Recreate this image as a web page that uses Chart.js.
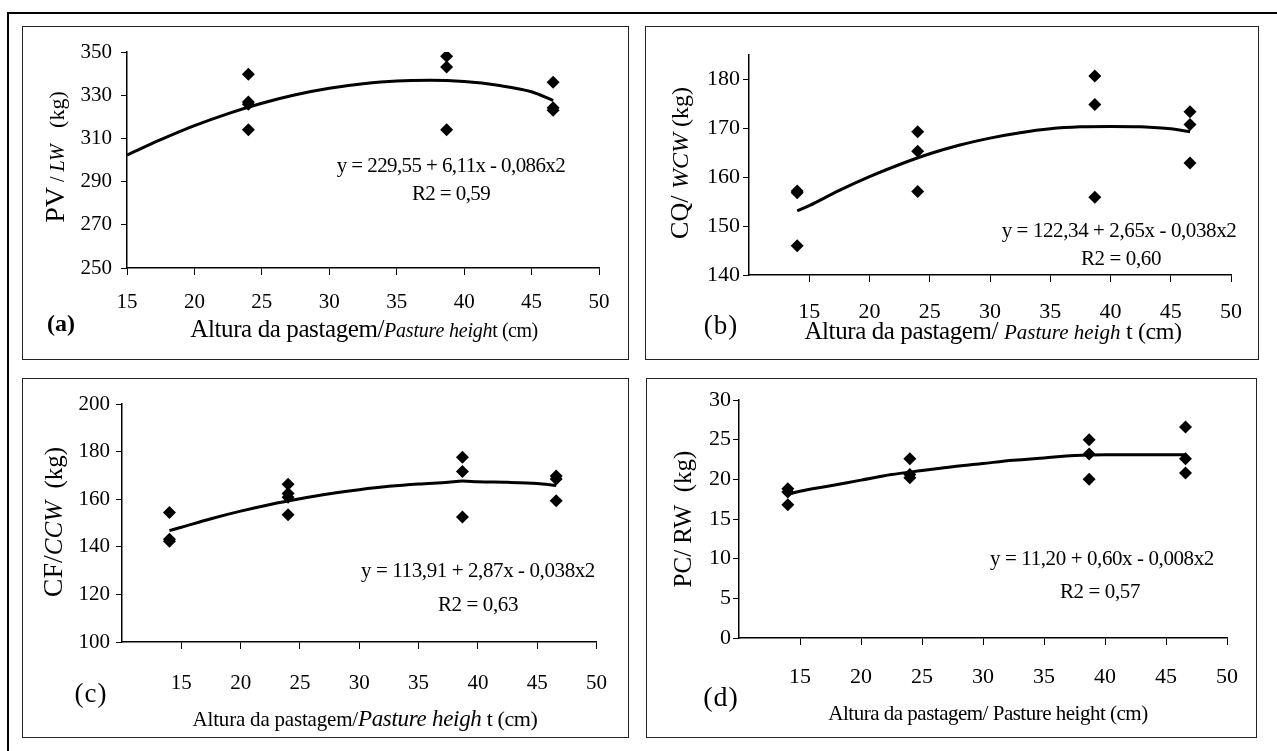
<!DOCTYPE html>
<html><head><meta charset="utf-8">
<script src="https://cdn.jsdelivr.net/npm/chart.js@4.4.0/dist/chart.umd.min.js"></script>
<style>
body{margin:0;background:#fff;width:1277px;height:751px;overflow:hidden;position:relative;font-family:"Liberation Serif","Times New Roman",serif;color:#000}
.frame{position:absolute;left:7px;top:12px;width:1300px;height:800px;border-left:2px solid #000;border-top:2px solid #000}
.box{position:absolute;border:1.5px solid #222;box-sizing:border-box}
canvas{position:absolute}
.t{position:absolute;white-space:nowrap;transform:translate(-50%,-50%);line-height:1}
.r{transform:translate(-50%,-50%) rotate(-90deg)}
</style></head>
<body>
<div class="frame"></div>
<div class="box" style="left:22px;top:26px;width:607px;height:334px"></div>
<div class="box" style="left:645px;top:26px;width:614px;height:334px"></div>
<div class="box" style="left:22px;top:378px;width:607px;height:360px"></div>
<div class="box" style="left:646px;top:378px;width:611px;height:360px"></div>
<canvas id="ca" width="607" height="334" style="left:22px;top:26px"></canvas>
<canvas id="cb" width="614" height="334" style="left:645px;top:26px"></canvas>
<canvas id="cc" width="607" height="360" style="left:22px;top:378px"></canvas>
<canvas id="cd" width="611" height="360" style="left:646px;top:378px"></canvas>

<!-- panel a texts -->
<div class="t r" style="left:55px;top:157px"><span style="font-size:28px">PV</span><span style="font-size:20px"> / <i>LW</i></span><span style="font-size:22px">&nbsp;&nbsp; (kg)</span></div>
<div class="t" style="left:451px;top:165px;font-size:21px;letter-spacing:-0.6px">y = 229,55 + 6,11x - 0,086x2</div>
<div class="t" style="left:451px;top:193px;font-size:21px;letter-spacing:-0.6px">R2 = 0,59</div>
<div class="t" style="left:61px;top:323px;font-size:24px;font-weight:bold">(a)</div>
<div class="t" style="left:364px;top:328px"><span style="font-size:25px;letter-spacing:-0.4px">Altura da pastagem/</span><i style="font-size:20px;letter-spacing:-0.2px">Pasture heigh</i><span style="font-size:20px;letter-spacing:-0.5px">t (cm)</span></div>

<!-- panel b texts -->
<div class="t r" style="left:680px;top:163px"><span style="font-size:26px">CQ/ </span><i style="font-size:24px">WCW</i><span style="font-size:24px"> (kg)</span></div>
<div class="t" style="left:1119px;top:230px;font-size:21px;letter-spacing:-0.4px">y = 122,34 + 2,65x - 0,038x2</div>
<div class="t" style="left:1121px;top:258px;font-size:21px;letter-spacing:-0.4px">R2 = 0,60</div>
<div class="t" style="left:721px;top:325px;font-size:27px;letter-spacing:1px">(b)</div>
<div class="t" style="left:993px;top:330px"><span style="font-size:25px;letter-spacing:-0.4px">Altura da pastagem/ </span><i style="font-size:21px">Pasture heigh</i><span style="font-size:24px;letter-spacing:-0.4px"> t (cm)</span></div>

<!-- panel c texts -->
<div class="t r" style="left:53px;top:522px"><span style="font-size:28px">CF/</span><i style="font-size:25px">CCW</i><span style="font-size:25px">&nbsp; (kg)</span></div>
<div class="t" style="left:478px;top:570px;font-size:21px;letter-spacing:-0.4px">y = 113,91 + 2,87x - 0,038x2</div>
<div class="t" style="left:478px;top:604px;font-size:21px;letter-spacing:-0.4px">R2 = 0,63</div>
<div class="t" style="left:91px;top:693px;font-size:27px;letter-spacing:1px">(c)</div>
<div class="t" style="left:365px;top:718px"><span style="font-size:21px;letter-spacing:-0.2px">Altura da pastagem/</span><i style="font-size:23px;letter-spacing:-0.3px">Pasture heigh</i><span style="font-size:22px;letter-spacing:-0.4px"> t (cm)</span></div>

<!-- panel d texts -->
<div class="t r" style="left:682px;top:519px;font-size:25px">PC/ RW&nbsp; (kg)</div>
<div class="t" style="left:1102px;top:558px;font-size:21px;letter-spacing:-0.4px">y = 11,20 + 0,60x - 0,008x2</div>
<div class="t" style="left:1100px;top:591px;font-size:21px;letter-spacing:-0.4px">R2 = 0,57</div>
<div class="t" style="left:721px;top:697px;font-size:28px;letter-spacing:1px">(d)</div>
<div class="t" style="left:988px;top:713px;font-size:21px;letter-spacing:-0.5px">Altura da pastagem/ Pasture height (cm)</div>

<script>
// ---------- data ----------
const xTickValues = [15, 20, 25, 30, 35, 40, 45, 50];

// (a) PV / LW
const ptsX_a = [24, 24, 24, 24, 38.7, 38.7, 38.7, 46.6, 46.6, 46.6];
const ptsY_a = [339.7, 326.9, 325.8, 314.0, 348.0, 343.1, 314.0, 336.0, 324.2, 323.0];
const fitX_a = [15, 17.5, 20, 22.5, 25, 27.5, 30, 32.5, 35, 37.5, 40, 42.5, 45, 46.6];
const fitY_a = [302.3, 309.4, 315.9, 321.5, 326.3, 330.2, 333.2, 335.3, 336.6, 336.9, 336.3, 334.6, 331.6, 327.5];
const yTicks_a = [250, 270, 290, 310, 330, 350];

// (b) CQ / WCW
const ptsX_b = [14, 14, 14, 24, 24, 24, 38.7, 38.7, 38.7, 46.6, 46.6, 46.6];
const ptsY_b = [157.2, 156.8, 146.0, 169.3, 165.3, 157.1, 180.7, 174.9, 155.9, 173.4, 170.8, 162.9];
const fitX_b = [14, 15, 17.5, 20, 22.5, 25, 27.5, 30, 32.5, 35, 37.5, 40, 42.5, 45, 46.6];
const fitY_b = [153.1, 154.2, 157.3, 160.1, 162.6, 164.8, 166.6, 168.0, 169.1, 169.9, 170.3, 170.4, 170.3, 169.9, 169.3];
const yTicks_b = [140, 150, 160, 170, 180];

// (c) CF / CCW
const ptsX_c = [14, 14, 14, 24, 24, 24, 24, 38.7, 38.7, 38.7, 46.6, 46.6, 46.6];
const ptsY_c = [154.4, 143.2, 142.3, 166.3, 162.4, 160.8, 153.5, 177.6, 171.6, 152.5, 169.8, 168.5, 159.3];
const fitX_c = [14, 15, 17.5, 20, 22.5, 25, 27.5, 30, 32.5, 35, 37.5, 38.7, 40, 42.5, 45, 46.6];
const fitY_c = [146.8, 148.2, 151.8, 155.0, 157.8, 160.2, 162.3, 164.0, 165.4, 166.4, 167.1, 167.6, 167.3, 167.1, 166.6, 165.8];
const yTicks_c = [100, 120, 140, 160, 180, 200];

// (d) PC / RW
const ptsX_d = [14, 14, 14, 24, 24, 24, 38.7, 38.7, 38.7, 46.6, 46.6, 46.6];
const ptsY_d = [18.8, 18.4, 16.8, 22.6, 20.6, 20.2, 25.0, 23.2, 20.0, 26.6, 22.6, 20.8];
const fitX_d = [14, 15, 17.5, 20, 22.5, 25, 27.5, 30, 32.5, 35, 37.5, 40, 42.5, 45, 46.6];
const fitY_d = [18.1, 18.5, 19.2, 19.9, 20.6, 21.1, 21.6, 22.0, 22.4, 22.7, 23.0, 23.1, 23.1, 23.1, 23.1];
const yTicks_d = [0, 5, 10, 15, 20, 25, 30];

// ---------- drawing ----------
const FONT = '"Liberation Serif","Times New Roman",serif';
function zip(xs, ys) { return xs.map((x, i) => ({ x: x, y: ys[i] })); }

function makeChart(id, o) {
  const cv = document.getElementById(id);
  const W = cv.width, H = cv.height;
  const yW = 60, xH = 60;
  new Chart(cv, {
    type: 'scatter',
    data: {
      datasets: [
        { data: zip(o.px, o.py), pointStyle: 'rectRot', pointRadius: 6.5, pointBackgroundColor: '#000',
          pointBorderColor: '#000', pointBorderWidth: 0, showLine: false, order: 0 },
        { data: zip(o.fx, o.fy), showLine: true, borderColor: '#000', borderWidth: 3, pointRadius: 0,
          cubicInterpolationMode: 'monotone', fill: false, order: 1 }
      ]
    },
    options: {
      responsive: false, animation: false, events: [],
      layout: { padding: { left: o.area[0] - yW, top: o.area[1], right: W - o.area[2], bottom: H - o.area[3] - xH } },
      plugins: { legend: { display: false }, tooltip: { enabled: false } },
      scales: {
        x: {
          type: 'linear', min: o.xmin, max: 50,
          afterBuildTicks: s => { s.ticks = xTickValues.map(v => ({ value: v })); },
          afterFit: s => { s.height = xH; },
          grid: { display: true, drawOnChartArea: false, drawTicks: true, tickLength: 7, color: '#000', lineWidth: 1 },
          border: { display: true, color: '#000', width: 1.5 },
          ticks: { color: '#000', font: { family: FONT, size: o.fs, lineHeight: 1.2 }, padding: o.xpad, maxRotation: 0, autoSkip: false }
        },
        y: {
          type: 'linear', min: o.ymin, max: o.ymax,
          afterBuildTicks: s => { s.ticks = o.yt.map(v => ({ value: v })); },
          afterFit: s => { s.width = yW; },
          grid: { display: true, drawOnChartArea: false, drawTicks: true, tickLength: 6, color: '#000', lineWidth: 1 },
          border: { display: true, color: '#000', width: 1.5 },
          ticks: { color: '#000', font: { family: FONT, size: o.fs }, padding: o.ypad, autoSkip: false }
        }
      }
    }
  });
}

makeChart('ca', { px: ptsX_a, py: ptsY_a, fx: fitX_a, fy: fitY_a, yt: yTicks_a, xmin: 15, ymin: 250, ymax: 350,
  area: [105, 26, 577, 242], fs: 21, xpad: 15, ypad: 9 });
makeChart('cb', { px: ptsX_b, py: ptsY_b, fx: fitX_b, fy: fitY_b, yt: yTicks_b, xmin: 10, ymin: 140, ymax: 185,
  area: [104, 29, 592, 249], fs: 22, xpad: 17, ypad: 3 });
makeChart('cc', { px: ptsX_c, py: ptsY_c, fx: fitX_c, fy: fitY_c, yt: yTicks_c, xmin: 10, ymin: 100, ymax: 200,
  area: [100, 26, 586, 264], fs: 21, xpad: 22, ypad: 6 });
makeChart('cd', { px: ptsX_d, py: ptsY_d, fx: fitX_d, fy: fitY_d, yt: yTicks_d, xmin: 10, ymin: 0, ymax: 30,
  area: [93, 22, 589, 260], fs: 22, xpad: 19, ypad: 2 });
</script>
</body></html>
